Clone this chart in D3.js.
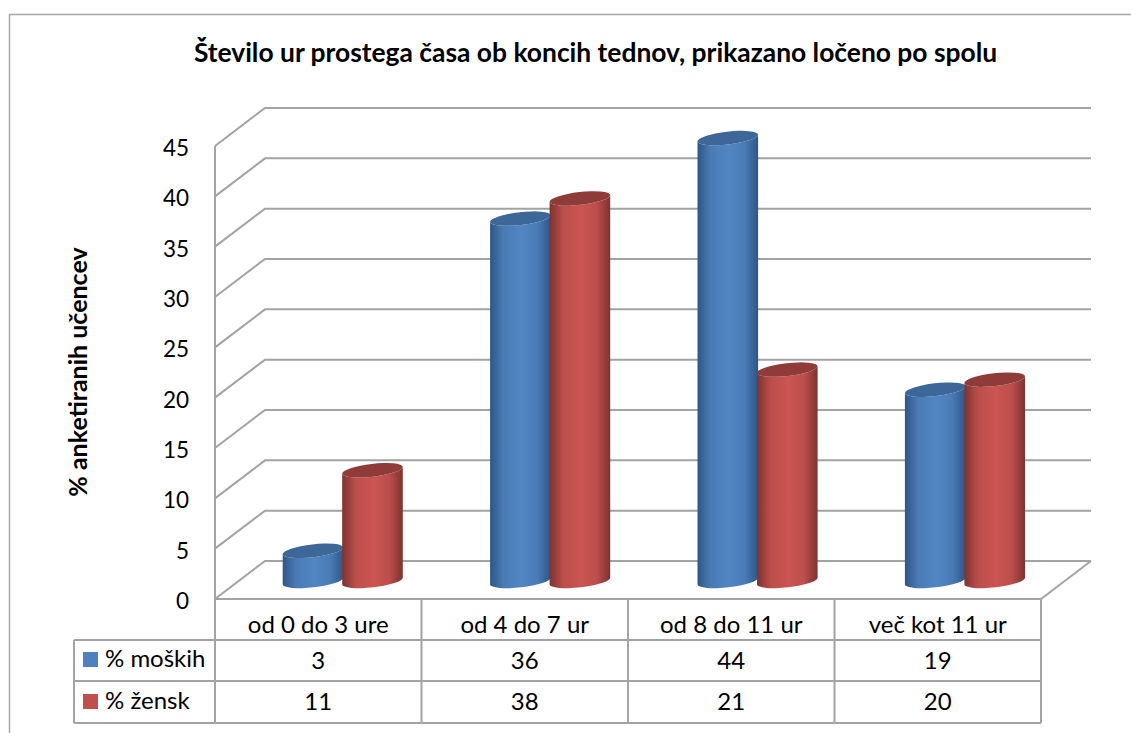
<!DOCTYPE html>
<html><head><meta charset="utf-8">
<script src="https://cdn.jsdelivr.net/npm/d3@7"></script>
<style>
html,body{margin:0;padding:0;background:#fff}
svg{display:block}
text{font-family:Lato,"Open Sans",sans-serif;fill:#000}
</style></head><body>
<svg id="c" width="1131" height="733"></svg>
<script>
const categories=["od 0 do 3 ure","od 4 do 7 ur","od 8 do 11 ur","več kot 11 ur"];
const seriesNames=["% moških","% žensk"];
const men=[3,36,44,19];
const women=[11,38,21,20];
const yTicks=[0,5,10,15,20,25,30,35,40,45];
const title="Število ur prostega časa ob koncih tednov, prikazano ločeno po spolu";
const yTitle="% anketiranih učencev";
const seriesValues=[men,women];
const swatches=["#4f81bd","#c0504d"];
const fills=[{base:"#5285c4",dark:"#2f5686",mid:"#4a7bb6",top:"#3c6798"},{base:"#cb5552",dark:"#7d3331",mid:"#bb4e4b",top:"#8f3b39"}];

const svg=d3.select("#c");
const W=1131,H=733;
const L=215,R=1041,Y0=599,Y45=146,DX=50,DY=38;
const grid="#a3a3a3";
const x=d3.scaleBand().domain(categories).range([L,R]);
const xBars=d3.scaleBand().domain(categories).range([239.3,1068.9]);
const y=d3.scaleLinear().domain([0,45]).range([Y0,Y45]);
const inner=d3.scaleBand().domain([0,1]).range([-60,60]);

const defs=svg.append("defs");
fills.forEach((f,i)=>{
  const g=defs.append("linearGradient").attr("id","g"+i).attr("x1",0).attr("x2",1).attr("y1",0).attr("y2",0);
  [[0,f.dark],[.22,f.mid],[.52,f.base],[.78,f.mid],[1,f.dark]].forEach(s=>g.append("stop").attr("offset",s[0]).attr("stop-color",s[1]));
});

// frame
svg.append("path").attr("d",`M9.5,${H}V14.5H${W}`).attr("fill","none").attr("stroke","#a6a6a6").attr("stroke-width",1.5);

// titles
svg.append("text").attr("x",595.5).attr("y",62).attr("text-anchor","middle").attr("font-weight",700).attr("font-size",26.4).text(title);
svg.append("text").attr("transform","translate(87,372) rotate(-90)").attr("text-anchor","middle").attr("font-weight",700).attr("font-size",25).text(yTitle);

// walls
const gl=svg.append("g").attr("fill","none").attr("stroke",grid).attr("stroke-width",2);
yTicks.forEach(t=>{
  gl.append("path").attr("d",`M${L},${y(t)}L${L+DX},${y(t)-DY}H${R+DX}`);
});
gl.append("path").attr("d",`M${R},${Y0}L${R+DX},${Y0-DY}`);
gl.append("path").attr("d",`M${L},${y(45)}V${Y0}H${R}`);

// cylinders
const rx=30.5,ry=6.4,tilt=-6.5,tr=tilt*Math.PI/180;
function body(cx,yb,yt){
  const dx=rx*Math.cos(tr),dy=rx*Math.sin(tr);
  return `M${cx-dx},${yb-dy}A${rx},${ry},${tilt},0,0,${cx+dx},${yb+dy}L${cx+dx},${yt+dy}A${rx},${ry},${tilt},0,1,${cx-dx},${yt-dy}Z`;
}
const floorOff=18;
categories.forEach((c,ci)=>{
  seriesValues.forEach((vals,si)=>{
    const cx=xBars(c)+xBars.bandwidth()/2+inner(si)+inner.bandwidth()/2-(si?0.5:0);
    const yb=y(0)-floorOff, yt=y(vals[ci])-floorOff;
    svg.append("path").attr("d",body(cx,yb,yt)).attr("fill",`url(#g${si})`);
    svg.append("ellipse").attr("rx",rx).attr("ry",ry).attr("fill",fills[si].top)
      .attr("transform",`translate(${cx},${yt}) rotate(${tilt})`);
  });
});

// y tick labels
yTicks.forEach(t=>{
  svg.append("text").attr("x",189).attr("y",y(t)+10).attr("text-anchor","end").attr("font-size",22.5).text(t);
});

// data table
const rowY=[Y0,640,681,723];
const lines=svg.append("g").attr("fill","none").attr("stroke",grid).attr("stroke-width",2);
const tableLeft=74;
rowY.slice(1).forEach(v=>lines.append("path").attr("d",`M${tableLeft},${v}H${R}`));
lines.append("path").attr("d",`M${tableLeft},640V723`);
x.domain().forEach(c=>lines.append("path").attr("d",`M${x(c)},${Y0}V723`));
lines.append("path").attr("d",`M${R},${Y0}V723`);
categories.forEach((c,i)=>{
  const cx=x(c)+x.bandwidth()/2;
  svg.append("text").attr("x",cx).attr("y",633).attr("text-anchor","middle").attr("font-size",24).text(c);
  svg.append("text").attr("x",cx).attr("y",669).attr("text-anchor","middle").attr("font-size",24).text(men[i]);
  svg.append("text").attr("x",cx).attr("y",710).attr("text-anchor","middle").attr("font-size",24).text(women[i]);
});
seriesNames.forEach((n,i)=>{
  const yy=[652,694][i];
  svg.append("rect").attr("x",83).attr("y",yy).attr("width",15).attr("height",15).attr("fill",swatches[i]);
  svg.append("text").attr("x",105).attr("y",yy+15).attr("font-size",24).text(n);
});
</script></body></html>
